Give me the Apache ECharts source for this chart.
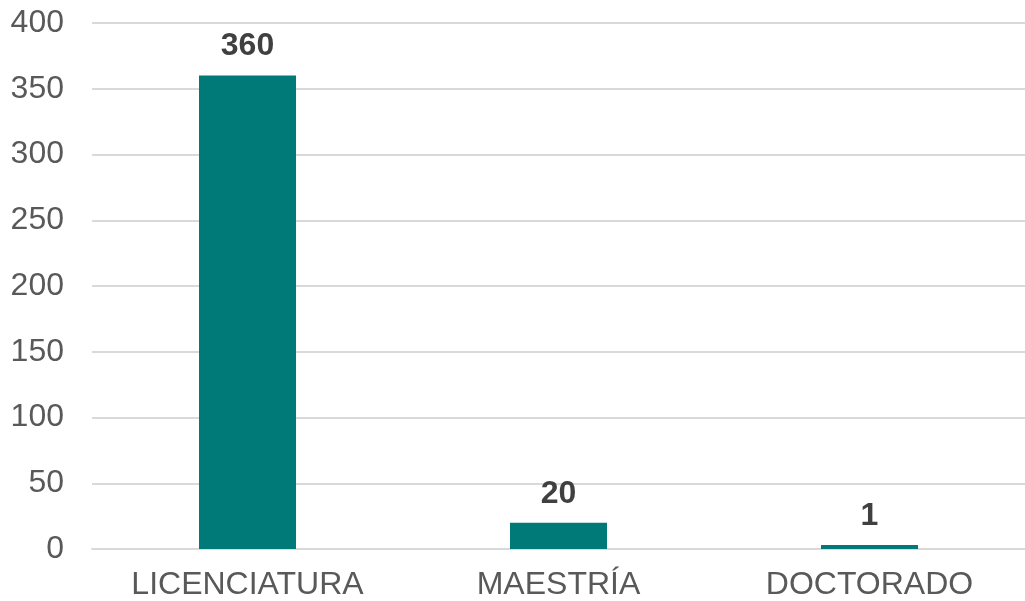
<!DOCTYPE html>
<html><head><meta charset="utf-8">
<script src="https://cdn.jsdelivr.net/npm/echarts@6/dist/echarts.min.js"></script>
<style>html,body{margin:0;padding:0;background:#fff}#c{width:1025px;height:601px}</style>
</head><body><div id="c"></div>
<script>
const categories = ['LICENCIATURA', 'MAESTRÍA', 'DOCTORADO'];
const values = [360, 20, 1];
const yTicks = {min: 0, max: 400, interval: 50};

const chart = echarts.init(document.getElementById('c'));
chart.setOption({
  animation: false,
  textStyle: {fontFamily: 'Liberation Sans, Arial, sans-serif'},
  grid: {left: 92, top: 23, width: 939, height: 527, containLabel: false},
  xAxis: {
    type: 'category', data: categories,
    offset: 6,
    axisLine: {show: true, lineStyle: {color: '#d9d9d9', width: 2}},
    axisTick: {show: false},
    axisLabel: {interval: 0, hideOverlap: false, color: '#595959', fontSize: 32, margin: 14, fontFamily: 'Liberation Sans'}
  },
  yAxis: {
    type: 'value', min: yTicks.min, max: yTicks.max, interval: yTicks.interval,
    axisLine: {show: false}, axisTick: {show: false},
    splitLine: {lineStyle: {color: '#d9d9d9', width: 2}},
    axisLabel: {color: '#595959', fontSize: 32, margin: 28, fontFamily: 'Liberation Sans'}
  },
  series: [{
    type: 'bar', data: values, barWidth: 97, barMinHeight: 4,
    itemStyle: {color: '#007a78'},
    label: {show: true, position: 'top', distance: 13, color: '#404040', fontSize: 32, fontWeight: 'bold', fontFamily: 'Liberation Sans'}
  }]
});
</script></body></html>
